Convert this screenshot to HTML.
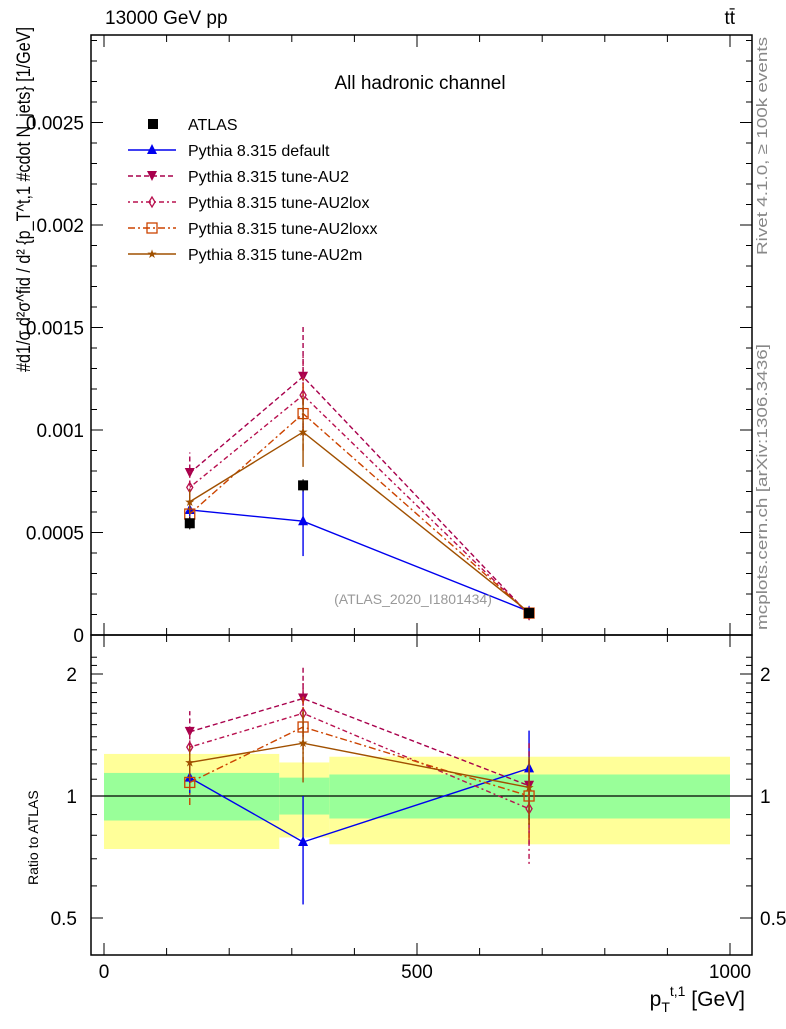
<!DOCTYPE html>
<html><head><meta charset="utf-8"><style>
body{margin:0;background:#fff;}
svg{font-family:"Liberation Sans",sans-serif;}
</style></head><body>
<svg id="c" width="786" height="1024" xmlns="http://www.w3.org/2000/svg">
<g id="bands"></g>
<rect x="91" y="35" width="661" height="600" fill="none" stroke="#000" stroke-width="1.5"/>
<rect x="91" y="635" width="661" height="320" fill="none" stroke="#000" stroke-width="1.5"/>
<g id="ticks"></g>
<g id="series"></g>
<text x="105" y="24" font-size="19">13000 GeV pp</text>
<text x="735" y="24" font-size="19" text-anchor="end">tt̄</text>
<text x="420" y="89" font-size="19" text-anchor="middle">All hadronic channel</text>
<text x="413" y="604" font-size="14" fill="#999" text-anchor="middle">(ATLAS_2020_I1801434)</text>
<text transform="translate(767,255) rotate(-90)" font-size="15" fill="#888" textLength="218" lengthAdjust="spacingAndGlyphs">Rivet 4.1.0, ≥ 100k events</text>
<text transform="translate(767,630) rotate(-90)" font-size="15" fill="#888" textLength="286" lengthAdjust="spacingAndGlyphs">mcplots.cern.ch [arXiv:1306.3436]</text>
<text transform="translate(30,372) rotate(-90)" font-size="19" textLength="345" lengthAdjust="spacingAndGlyphs">#d1/σ d²σ^fid / d² {p_T^t,1 #cdot N_jets} [1/GeV]</text>
<text transform="translate(38,885) rotate(-90)" font-size="14">Ratio to ATLAS</text>
<text x="745" y="1006" font-size="21" text-anchor="end">p<tspan font-size="14" dy="6">T</tspan><tspan font-size="14" dy="-16">t,1</tspan><tspan dy="10"> [GeV]</tspan></text>
<g id="legend"></g>
</svg>
<script>
const xCenters=[137,318,679];
const binEdges=[0,280,360,1000];
const atlas=[0.000545,0.00073,0.000107];
const atlasErr=[0.00003,0.00003,0.000005];
const seriesNames=["Pythia 8.315 default","Pythia 8.315 tune-AU2","Pythia 8.315 tune-AU2lox","Pythia 8.315 tune-AU2loxx","Pythia 8.315 tune-AU2m"];
const vDefault=[0.00061,0.000555,0.000115];
const vAU2=[0.00079,0.00126,0.000100];
const vAU2lox=[0.00072,0.00117,0.000100];
const vAU2loxx=[0.00059,0.00108,0.000107];
const vAU2m=[0.00065,0.00099,0.000110];
const eDefault=[0.00005,0.00017,0.000015];
const eAU2=[0.0001,0.00025,0.00001];
const eAU2lox=[0.00008,0.0002,0.00001];
const eAU2loxx=[0.00007,0.00018,0.00001];
const eAU2m=[0.00006,0.00017,0.00001];
const rDefault=[1.11,0.77,1.17];
const rAU2=[1.44,1.74,1.06];
const rAU2lox=[1.32,1.60,0.93];
const rAU2loxx=[1.08,1.48,1.00];
const rAU2m=[1.21,1.35,1.05];
const reDefault=[0.1,0.23,0.28];
const reAU2=[0.18,0.34,0.3];
const reAU2lox=[0.15,0.3,0.25];
const reAU2loxx=[0.13,0.28,0.22];
const reAU2m=[0.12,0.27,0.2];
const yellowHi=[1.27,1.21,1.25], yellowLo=[0.74,0.79,0.76];
const greenHi=[1.14,1.11,1.13], greenLo=[0.87,0.90,0.88];
const mainTicks=[0,0.0005,0.001,0.0015,0.002,0.0025];
const mainTickLabels=["0","0.0005","0.001","0.0015","0.002","0.0025"];
const ratioTicks=[0.5,1,2];
const ratioTickLabels=["0.5","1","2"];
const xTicks=[0,500,1000];
const xTickLabels=["0","500","1000"];

const NS="http://www.w3.org/2000/svg";
const X=v=>104+v*0.626;
const Y=v=>635-v*205000;
const R=v=>796-Math.log2(v)*122;
function mk(tag,attrs,parent){const e=document.createElementNS(NS,tag);for(const k in attrs)e.setAttribute(k,attrs[k]);parent.appendChild(e);return e;}
const bands=document.getElementById('bands');
for(let i=0;i<3;i++){
 const x0=Math.max(X(binEdges[i]),92),x1=X(binEdges[i+1]);
 let r=mk('rect',{x:x0,y:R(yellowHi[i]),width:x1-x0,height:R(yellowLo[i])-R(yellowHi[i]),fill:'#ffff99'},bands);
 
 
 r=mk('rect',{x:x0,y:R(greenHi[i]),width:x1-x0,height:R(greenLo[i])-R(greenHi[i]),fill:'#99ff99'},bands);
 
 
}
mk('line',{x1:91,x2:752,y1:R(1),y2:R(1),stroke:'#000','stroke-width':1.2},bands);
const tk=document.getElementById('ticks');
mainTicks.forEach((v,i)=>{
 mk('line',{x1:91,x2:103,y1:Y(v),y2:Y(v),stroke:'#000'},tk);
 mk('line',{x1:740,x2:752,y1:Y(v),y2:Y(v),stroke:'#000'},tk);
 const t=mk('text',{x:84,y:Y(v)+7,'font-size':19,'text-anchor':'end'},tk);t.textContent=mainTickLabels[i];
 
 
 for(let k=1;k<5;k++){const yy=Y(v+k*0.0001);if(yy>37){mk('line',{x1:91,x2:97,y1:yy,y2:yy,stroke:'#000'},tk);mk('line',{x1:746,x2:752,y1:yy,y2:yy,stroke:'#000'},tk);}}
});
ratioTicks.forEach((v,i)=>{
 mk('line',{x1:91,x2:103,y1:R(v),y2:R(v),stroke:'#000'},tk);
 mk('line',{x1:740,x2:752,y1:R(v),y2:R(v),stroke:'#000'},tk);
 let t=mk('text',{x:77,y:R(v)+7,'font-size':19,'text-anchor':'end'},tk);t.textContent=ratioTickLabels[i];
 
 
 t=mk('text',{x:760,y:R(v)+7,'font-size':19},tk);t.textContent=ratioTickLabels[i];
 
 
});
[0.6,0.7,0.8,0.9,1.1,1.2,1.3,1.4,1.5,1.6,1.7,1.8,1.9,2.1,2.2].forEach(v=>{mk('line',{x1:91,x2:97,y1:R(v),y2:R(v),stroke:'#000'},tk);mk('line',{x1:746,x2:752,y1:R(v),y2:R(v),stroke:'#000'},tk);});
for(let v=0;v<=1000;v+=100){
 const big=v%500==0, len=big?12:7;
 mk('line',{x1:X(v),x2:X(v),y1:955,y2:955-len,stroke:'#000'},tk);
 mk('line',{x1:X(v),x2:X(v),y1:635,y2:635-len,stroke:'#000'},tk);
 mk('line',{x1:X(v),x2:X(v),y1:635,y2:635+len,stroke:'#000'},tk);
 mk('line',{x1:X(v),x2:X(v),y1:35,y2:35+len,stroke:'#000'},tk);
}
xTicks.forEach((v,i)=>{const t=mk('text',{x:X(v),y:978,'font-size':19,'text-anchor':'middle'},tk);t.textContent=xTickLabels[i];
 
 });

const defs=[
 {vals:vDefault,err:eDefault,r:rDefault,re:reDefault,c:'#0000ee',dash:'',m:'tri',name:'default'},
 {vals:vAU2,err:eAU2,r:rAU2,re:reAU2,c:'#a8004c',dash:'5,3',m:'tridown',name:'au2'},
 {vals:vAU2lox,err:eAU2lox,r:rAU2lox,re:reAU2lox,c:'#b8104e',dash:'2,3,5,3',m:'diamond',name:'au2lox'},
 {vals:vAU2loxx,err:eAU2loxx,r:rAU2loxx,re:reAU2loxx,c:'#cc4400',dash:'7,3,2,3',m:'square',name:'au2loxx'},
 {vals:vAU2m,err:eAU2m,r:rAU2m,re:reAU2m,c:'#a05000',dash:'',m:'star',name:'au2m'}
];
function marker(type,x,y,c,p,s){
 s=s||5;
 if(type=='tri')return mk('polygon',{points:`${x},${y-s-1} ${x-s},${y+s-1} ${x+s},${y+s-1}`,fill:c},p);
 if(type=='tridown')return mk('polygon',{points:`${x},${y+s} ${x-s},${y-s} ${x+s},${y-s}`,fill:c},p);
 if(type=='diamond')return mk('polygon',{points:`${x},${y-s} ${x-3},${y} ${x},${y+s} ${x+3},${y}`,fill:'none',stroke:c,'stroke-width':1.3},p);
 if(type=='square')return mk('rect',{x:x-s,y:y-s,width:2*s,height:2*s,fill:'none',stroke:c,'stroke-width':1.3},p);
 if(type=='star')return mk('text',{x:x,y:y+4,'font-size':12,fill:c,'text-anchor':'middle'},p);
 return mk('rect',{x:x-s,y:y-s,width:2*s,height:2*s,fill:c},p);
}
const sg=document.getElementById('series');
defs.forEach(d=>{
 const g=mk('g',{},sg);
 
 
 const la={fill:'none',stroke:d.c,'stroke-width':1.4};if(d.dash)la['stroke-dasharray']=d.dash;
 mk('polyline',Object.assign({points:d.vals.map((v,i)=>X(xCenters[i])+','+Y(v)).join(' ')},la),g);
 mk('polyline',Object.assign({points:d.r.map((v,i)=>X(xCenters[i])+','+R(v)).join(' ')},la),g);
 d.vals.forEach((v,i)=>{
  const x=X(xCenters[i]);
  mk('line',Object.assign({x1:x,x2:x,y1:Y(v-d.err[i]),y2:Y(v+d.err[i])},la),g);
  mk('line',Object.assign({x1:x,x2:x,y1:R(Math.max(d.r[i]-d.re[i],0.3)),y2:R(d.r[i]+d.re[i])},la),g);
  let m=marker(d.m,x,Y(v),d.c,g);if(d.m=='star')m.textContent='★';
  
  
  m=marker(d.m,x,R(d.r[i]),d.c,g);if(d.m=='star')m.textContent='★';
  
  
 });
});
const ag=mk('g',{},sg);


atlas.forEach((v,i)=>{const x=X(xCenters[i]);
 mk('line',{x1:x,x2:x,y1:Y(v-atlasErr[i]),y2:Y(v+atlasErr[i]),stroke:'#000'},ag);
 const m=mk('rect',{x:x-5,y:Y(v)-5,width:10,height:10,fill:'#000'},ag);
 
 });
const lg=document.getElementById('legend');
const allNames=["ATLAS"].concat(seriesNames);
allNames.forEach((n,i)=>{
 const y=124+i*26;
 if(i==0){mk('rect',{x:148,y:y-5,width:10,height:10,fill:'#000'},lg);}
 else{const d=defs[i-1];const la={stroke:d.c,'stroke-width':1.4};if(d.dash)la['stroke-dasharray']=d.dash;
  mk('line',Object.assign({x1:128,x2:176,y1:y,y2:y},la),lg);
  const m=marker(d.m,152,y,d.c,lg);if(d.m=='star')m.textContent='★';}
 const t=mk('text',{x:188,y:y+6,'font-size':16},lg);t.textContent=n;
 
 
});
</script>
</body></html>
